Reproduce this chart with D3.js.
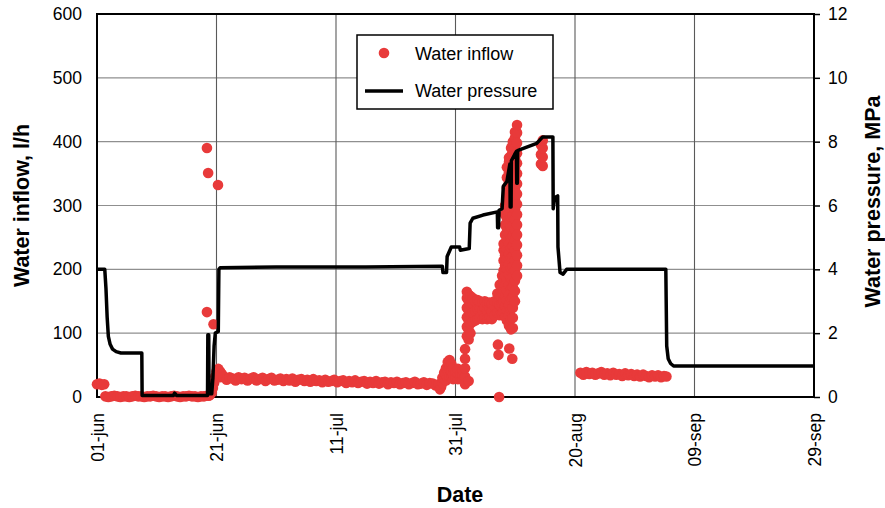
<!DOCTYPE html>
<html>
<head>
<meta charset="utf-8">
<script src="https://cdn.jsdelivr.net/npm/d3@7"></script>
<style>
  html, body { margin: 0; padding: 0; background: #fff; }
  svg { display: block; font-family: "Liberation Sans", Arial, sans-serif; }
</style>
</head>
<body>
<svg id="chart" width="885" height="508"></svg>
<script>
// ---- axes ----
const dayTicks = [0, 20, 40, 60, 80, 100, 120];
const dayLabels = ["01-jun", "21-jun", "11-jul", "31-jul", "20-aug", "09-sep", "29-sep"];
const inflowTicks = [0, 100, 200, 300, 400, 500, 600];
const pressureTicks = [0, 2, 4, 6, 8, 10, 12];

// ---- water pressure, MPa: [day since 01-jun, value] ----
const pressure = [
  [0, 4.0], [1.3, 4.0], [1.5, 3.4], [1.7, 2.5], [1.9, 1.9], [2.2, 1.65], [2.6, 1.5], [3.2, 1.42],
  [4.0, 1.38], [7.5, 1.38], [7.55, 0.05], [12.8, 0.05], [13.0, 0.12], [13.3, 0.05], [18.5, 0.05],
  [18.55, 1.95], [18.7, 1.95], [18.75, 0.1], [19.2, 0.1], [19.4, 0.6], [19.6, 1.6], [19.8, 2.0],
  [20.3, 2.05], [20.4, 4.0], [20.6, 4.05], [30, 4.07], [45, 4.07], [57.8, 4.1], [57.9, 3.9],
  [58.5, 3.9], [58.6, 4.4], [59.3, 4.7], [60.7, 4.7], [60.8, 4.6], [62.3, 4.65], [62.45, 5.45],
  [62.9, 5.6], [64.6, 5.7], [67.0, 5.8], [67.05, 5.3], [67.2, 5.3], [67.3, 5.85], [67.8, 5.9],
  [68.0, 6.6], [68.6, 6.75], [69.1, 7.3], [69.15, 5.95], [69.3, 5.95], [69.35, 7.4], [69.9, 7.6],
  [70.2, 7.7], [70.25, 6.7], [70.35, 6.7], [70.4, 7.72], [70.8, 7.75], [73.6, 7.95], [74.1, 8.05],
  [74.6, 8.15], [76.3, 8.15], [76.35, 5.9], [76.6, 6.25], [77.1, 6.3], [77.15, 4.7], [77.5, 3.9],
  [78.0, 3.85], [78.6, 4.0], [95.2, 4.0], [95.35, 1.6], [95.6, 1.2], [96.0, 1.05], [96.5, 0.97],
  [120, 0.97]
];

// ---- water inflow, l/h: [day since 01-jun, readings at that time] ----
const inflowEarlyJune = [
  [0.0, [20]], [0.4, [21]], [0.8, [19]], [1.2, [20]],
  [1.4, [1]], [1.9, [0]], [2.4, [1]], [2.9, [2]], [3.4, [1]], [3.9, [0]], [4.4, [1]], [4.9, [1]],
  [5.4, [0]], [5.9, [1]], [6.4, [2]], [6.9, [1]], [7.4, [1]], [7.9, [0]], [8.4, [1]], [8.9, [1]],
  [9.4, [2]], [9.9, [1]], [10.4, [0]], [10.9, [1]], [11.4, [1]], [11.9, [0]], [12.4, [1]], [12.9, [2]],
  [13.4, [1]], [13.9, [0]], [14.4, [1]], [14.9, [1]], [15.4, [2]], [15.9, [1]], [16.4, [1]], [16.9, [0]],
  [17.4, [1]], [17.9, [1]], [18.4, [2]], [18.7, [2]]
];
const inflowLateJune = [
  [18.4, [133, 390]], [18.6, [351]], [18.9, [3]], [19.2, [7]], [19.4, [14]], [19.5, [114]],
  [19.6, [22]], [19.8, [32]], [20.0, [40, 30]], [20.25, [332]], [20.3, [44, 34]], [20.6, [40, 31]],
  [20.9, [36]]
];
const inflowJuly = [
  [21.2, [32]], [21.7, [27]], [22.2, [31]], [22.7, [29]], [23.2, [26]], [23.7, [31]], [24.2, [28]],
  [24.7, [30]], [25.2, [26]], [25.7, [29]], [26.2, [31]], [26.7, [26]], [27.2, [28]], [27.7, [30]],
  [28.2, [25]], [28.7, [28]], [29.2, [30]], [29.7, [26]], [30.2, [27]], [30.7, [29]], [31.2, [25]],
  [31.7, [28]], [32.2, [26]], [32.7, [29]], [33.2, [24]], [33.7, [27]], [34.2, [28]], [34.7, [25]],
  [35.2, [27]], [35.7, [24]], [36.2, [28]], [36.7, [25]], [37.2, [26]], [37.7, [23]], [38.2, [27]],
  [38.7, [24]], [39.2, [25]], [39.7, [27]], [40.2, [23]], [40.7, [25]], [41.2, [26]], [41.7, [22]],
  [42.2, [25]], [42.7, [23]], [43.2, [26]], [43.7, [22]], [44.2, [24]], [44.7, [25]], [45.2, [21]],
  [45.7, [24]], [46.2, [22]], [46.7, [25]], [47.2, [21]], [47.7, [23]], [48.2, [24]], [48.7, [20]],
  [49.2, [23]], [49.7, [22]], [50.2, [24]], [50.7, [20]], [51.2, [22]], [51.7, [23]], [52.2, [20]],
  [52.7, [22]], [53.2, [24]], [53.7, [20]], [54.2, [21]], [54.7, [23]], [55.2, [19]], [55.7, [22]],
  [56.2, [21]], [56.7, [18]], [57.2, [20]], [57.4, [12]], [57.6, [16]]
];
const inflowAugust = [
  [57.8, [22, 30]], [58.1, [28, 38]], [58.4, [26, 35, 45]], [58.7, [30, 42, 55]], [59.0, [32, 45, 58]],
  [59.3, [30, 40, 52]], [59.6, [28, 36, 46]], [60.0, [30, 40]], [60.4, [28, 38, 44]], [60.8, [30, 36]],
  [61.2, [28, 35, 42]], [61.6, [20, 32, 45, 60, 75]], [61.9, [95, 110, 125, 140, 155, 165]],
  [62.2, [25, 90, 105, 120, 135, 150, 160]], [62.5, [100, 115, 130, 145, 158]],
  [62.9, [118, 132, 146, 155]], [63.3, [120, 135, 150]], [63.7, [122, 138, 152]],
  [64.1, [125, 140, 150]], [64.5, [122, 136, 148]], [64.9, [124, 140, 150]], [65.3, [122, 135, 147]],
  [65.7, [125, 140, 148]], [66.1, [122, 134, 146]], [66.5, [128, 142, 150]],
  [67.0, [132, 148, 162]], [67.1, [82]], [67.2, [66]], [67.3, [0]], [67.4, [128, 144, 160, 176]],
  [67.8, [130, 146, 162, 178, 190]],
  [68.05, [134, 150, 166, 182, 198, 214, 230, 240]],
  [68.3, [126, 142, 158, 174, 190, 206, 222, 238, 254, 270, 286, 300]],
  [68.6, [120, 136, 152, 168, 184, 200, 216, 232, 248, 264, 280, 296, 312, 328, 344, 360]],
  [68.95, [112, 128, 144, 160, 176, 192, 208, 224, 240, 256, 272, 288, 304, 320, 336, 352, 368, 375]],
  [69.0, [76]],
  [69.3, [106, 122, 138, 154, 170, 186, 202, 218, 234, 250, 266, 282, 298, 314, 330, 346, 362, 378, 390]],
  [69.5, [60]],
  [69.6, [108, 124, 140, 156, 172, 188, 204, 220, 236, 252, 268, 284, 300, 316, 332, 348, 364, 380, 396, 400]],
  [69.95, [150, 166, 182, 198, 214, 230, 246, 262, 278, 294, 310, 326, 342, 358, 374, 390, 406, 415]],
  [70.3, [190, 206, 222, 238, 254, 270, 286, 302, 318, 334, 350, 366, 382, 398, 414, 426]],
  [74.3, [365, 380, 395]], [74.6, [362, 376, 390, 402]],
  [80.9, [38]], [81.4, [35]], [81.9, [39]], [82.4, [36]], [82.9, [38]], [83.4, [35]], [83.9, [37]],
  [84.4, [39]], [84.9, [35]], [85.4, [37]], [85.9, [34]], [86.4, [38]], [86.9, [35]], [87.4, [36]],
  [87.9, [33]], [88.4, [37]], [88.9, [34]], [89.4, [36]], [89.9, [33]], [90.4, [35]], [90.9, [32]],
  [91.4, [35]], [91.9, [33]], [92.4, [31]], [92.9, [34]], [93.4, [32]], [93.9, [34]], [94.4, [31]],
  [94.9, [33]], [95.3, [32]]
];

// ---- layout ----
const plot = { left: 97, right: 814, top: 14, bottom: 397 };
const red = "#e83a3a";
const svg = d3.select("#chart");

const x = d3.scaleLinear().domain([0, 120]).range([plot.left, plot.right]);
const yL = d3.scaleLinear().domain([0, 600]).range([plot.bottom, plot.top]);
const yR = d3.scaleLinear().domain([0, 12]).range([plot.bottom, plot.top]);

// gridlines
svg.append("g").selectAll("line")
  .data(inflowTicks.slice(1, -1)).join("line")
  .attr("x1", plot.left).attr("x2", plot.right)
  .attr("y1", d => yL(d)).attr("y2", d => yL(d))
  .attr("stroke", "#8f8f8f").attr("stroke-width", 1.2);
svg.append("g").selectAll("line")
  .data(dayTicks.slice(1, -1)).join("line")
  .attr("x1", d => x(d)).attr("x2", d => x(d))
  .attr("y1", plot.top).attr("y2", plot.bottom)
  .attr("stroke", "#5a5a5a").attr("stroke-width", 1.1);

// frame
svg.append("rect")
  .attr("x", plot.left).attr("y", plot.top)
  .attr("width", plot.right - plot.left).attr("height", plot.bottom - plot.top)
  .attr("fill", "none").attr("stroke", "#000").attr("stroke-width", 2);

// left axis
const axL = svg.append("g").attr("transform", `translate(${plot.left},0)`)
  .call(d3.axisLeft(yL).tickValues(inflowTicks).tickSize(0).tickPadding(15));
axL.select(".domain").remove();
axL.selectAll("text").attr("font-size", 17.5).attr("fill", "#000")
  .attr("font-family", "Liberation Sans, Arial, sans-serif");

// right axis
const axR = svg.append("g").attr("transform", `translate(${plot.right},0)`)
  .call(d3.axisRight(yR).tickValues(pressureTicks).tickSize(6).tickPadding(8));
axR.select(".domain").remove();
axR.selectAll("line").attr("stroke", "#000").attr("stroke-width", 1.5);
axR.selectAll("text").attr("font-size", 17.5).attr("fill", "#000")
  .attr("font-family", "Liberation Sans, Arial, sans-serif");

// bottom axis, rotated date labels
const axB = svg.append("g").attr("transform", `translate(0,${plot.bottom})`)
  .call(d3.axisBottom(x).tickValues(dayTicks).tickSize(0)
    .tickFormat((d, i) => dayLabels[i]));
axB.select(".domain").remove();
axB.selectAll("text")
  .attr("font-size", 17.5).attr("fill", "#000")
  .attr("font-family", "Liberation Sans, Arial, sans-serif")
  .attr("text-anchor", "end")
  .attr("transform", "translate(0,16) rotate(-90)")
  .attr("x", 0).attr("y", 0).attr("dy", "0.35em");

// inflow dots
const inflowPoints = [inflowEarlyJune, inflowLateJune, inflowJuly, inflowAugust]
  .flat()
  .flatMap(([day, vals]) => vals.map(v => ({ day, v })));
svg.append("g").selectAll("circle")
  .data(inflowPoints).join("circle")
  .attr("cx", d => x(d.day)).attr("cy", d => yL(d.v))
  .attr("r", 5.3).attr("fill", red);

// pressure line
svg.append("path")
  .datum(pressure)
  .attr("d", d3.line().x(d => x(d[0])).y(d => yR(d[1])))
  .attr("fill", "none").attr("stroke", "#000")
  .attr("stroke-width", 3.5).attr("stroke-linejoin", "round");

// legend
const lg = svg.append("g");
lg.append("rect").attr("x", 357).attr("y", 35).attr("width", 196).attr("height", 74)
  .attr("fill", "#fff").attr("stroke", "#000").attr("stroke-width", 1.5);
lg.append("circle").attr("cx", 384).attr("cy", 53).attr("r", 5.3).attr("fill", red);
lg.append("line").attr("x1", 365).attr("x2", 403).attr("y1", 91).attr("y2", 91)
  .attr("stroke", "#000").attr("stroke-width", 3.5);
lg.append("text").attr("x", 415).attr("y", 60).attr("font-size", 18).text("Water inflow");
lg.append("text").attr("x", 415).attr("y", 97).attr("font-size", 18).text("Water pressure");

// axis titles
svg.append("text")
  .attr("transform", `translate(29,${(plot.top + plot.bottom) / 2}) rotate(-90)`)
  .attr("text-anchor", "middle").attr("font-size", 21.5).attr("font-weight", "bold")
  .text("Water inflow, l/h");
svg.append("text")
  .attr("transform", `translate(880,${(plot.top + plot.bottom) / 2 - 4}) rotate(-90)`)
  .attr("text-anchor", "middle").attr("font-size", 21.5).attr("font-weight", "bold")
  .text("Water pressure, MPa");
svg.append("text")
  .attr("x", 460).attr("y", 502)
  .attr("text-anchor", "middle").attr("font-size", 21.5).attr("font-weight", "bold")
  .text("Date");
</script>
</body>
</html>
